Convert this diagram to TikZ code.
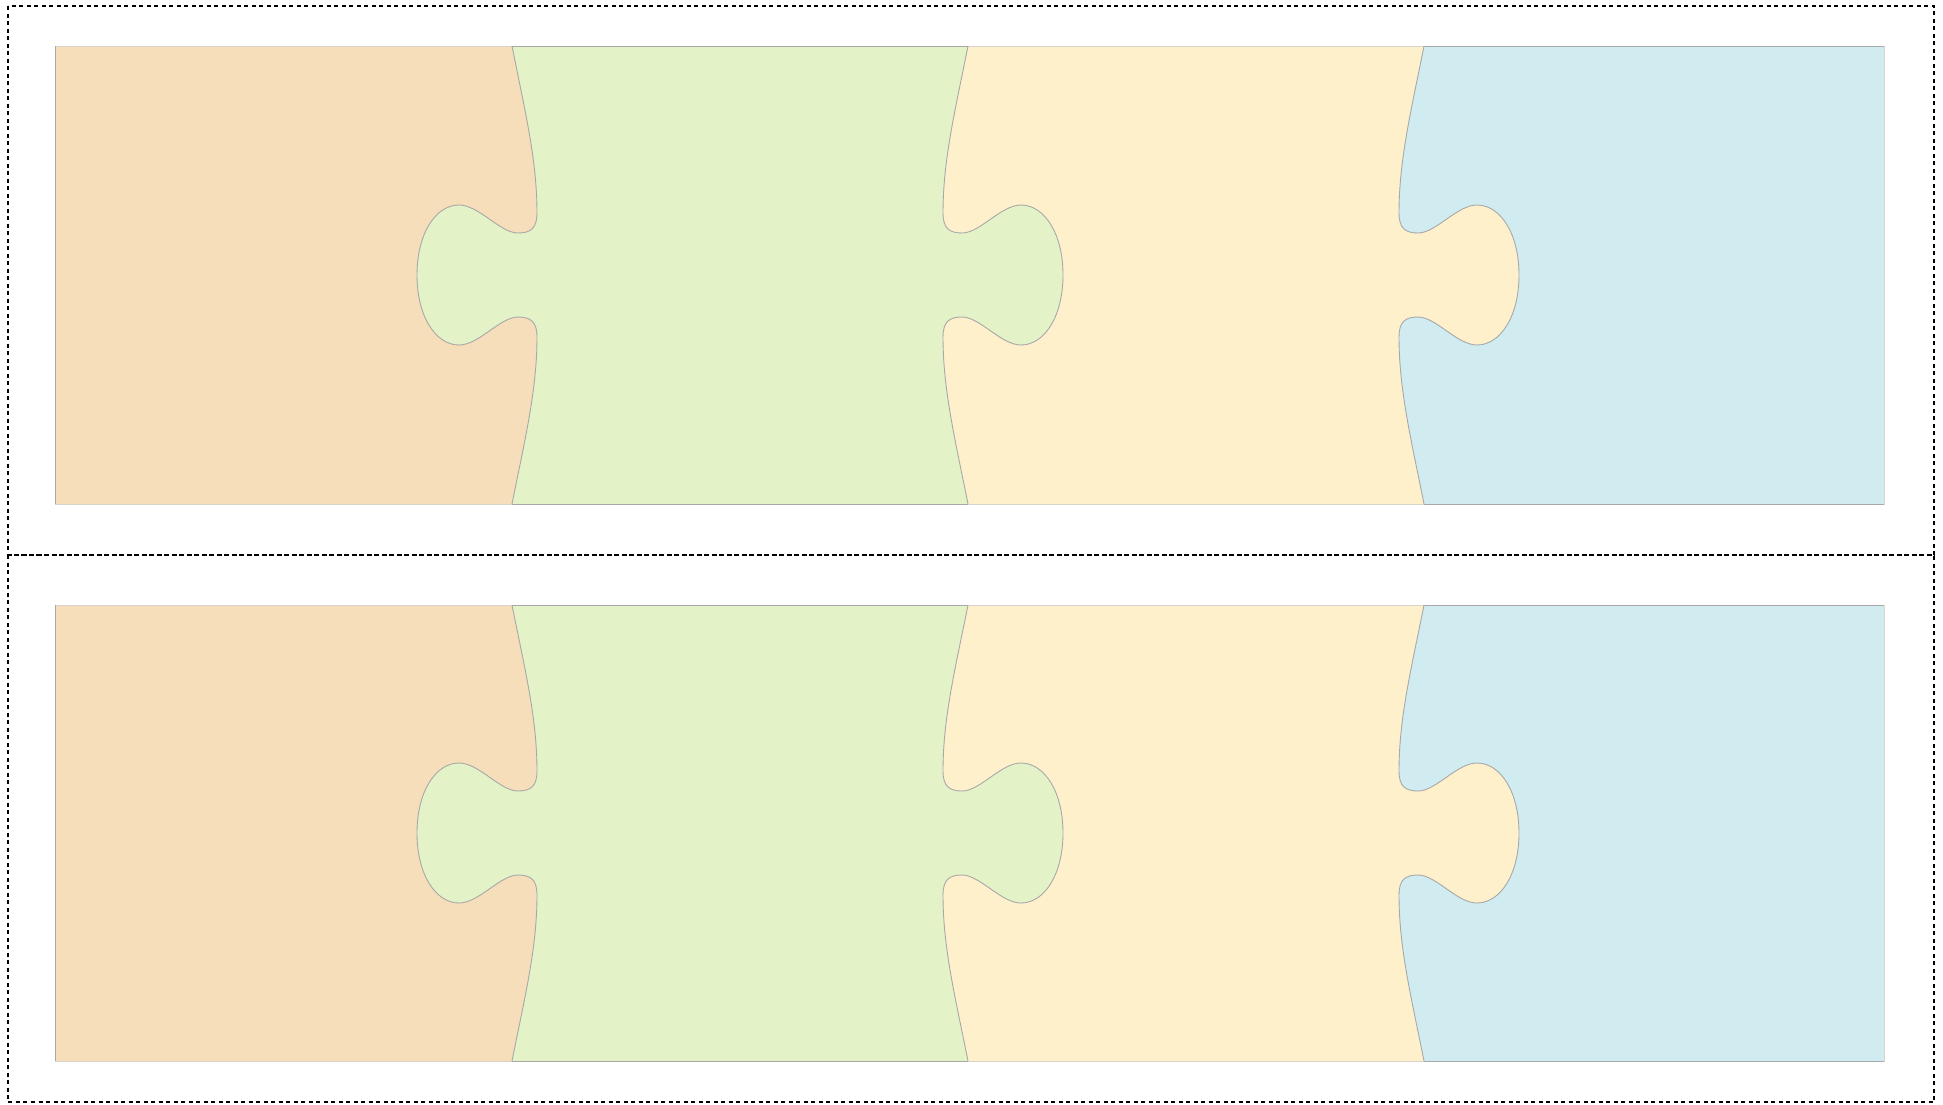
\documentclass[tikz,border=0pt]{standalone}
\definecolor{pzorange}{HTML}{F5DEB9}
\definecolor{pzgreen}{HTML}{E3F3C7}
\definecolor{pzyellow}{HTML}{FFF0CC}
\definecolor{pzblue}{HTML}{D0ECF0}
\definecolor{pzgray}{HTML}{A8A8A8}
\definecolor{pzpale}{HTML}{D8D4CC}
\tikzset{
  pzjoint/.style n args={4}{insert path={
    .. controls ({#1+(#4)*13},{#2-#3+65}) and ({#1+(#4)*25},{#2-115}) .. ({#1+(#4)*25},{#2-62})
    .. controls ({#1+(#4)*25},{#2-47}) and ({#1+(#4)*19},{#2-42}) .. ({#1+(#4)*6},{#2-42})
    .. controls ({#1-(#4)*12},{#2-42}) and ({#1-(#4)*33},{#2-70}) .. ({#1-(#4)*53},{#2-70})
    .. controls ({#1-(#4)*76},{#2-70}) and ({#1-(#4)*95},{#2-42}) .. ({#1-(#4)*95},{#2})
    .. controls ({#1-(#4)*95},{#2+42}) and ({#1-(#4)*76},{#2+70}) .. ({#1-(#4)*53},{#2+70})
    .. controls ({#1-(#4)*33},{#2+70}) and ({#1-(#4)*12},{#2+42}) .. ({#1+(#4)*6},{#2+42})
    .. controls ({#1+(#4)*19},{#2+42}) and ({#1+(#4)*25},{#2+47}) .. ({#1+(#4)*25},{#2+62})
    .. controls ({#1+(#4)*25},{#2+115}) and ({#1+(#4)*13},{#2+#3-65}) .. ({#1},{#2+#3})
  }},
  pzline/.style={draw=pzgray, line width=0.9pt},
  pzpaleline/.style={draw=pzpale, line width=0.9pt},
  pzdash/.style={draw=black, line width=1.8pt, dash pattern=on 4pt off 3.5pt},
}
\begin{document}
\begin{tikzpicture}[x=1pt,y=-1pt]
\useasboundingbox (0,0) rectangle (1943,1104);
\fill[white] (0,0) rectangle (1943,1104);
\foreach \c/\h in {275/229, 833/228}{
  \fill[pzorange] (55,{\c-\h}) rectangle (1884,{\c+\h});
  \fill[pzgreen] (1884,{\c-\h}) -- (512,{\c-\h}) [pzjoint={512}{\c}{\h}{1}] -- (1884,{\c+\h}) -- cycle;
  \fill[pzyellow] (1884,{\c-\h}) -- (968,{\c-\h}) [pzjoint={968}{\c}{\h}{-1}] -- (1884,{\c+\h}) -- cycle;
  \fill[pzblue] (1884,{\c-\h}) -- (1424,{\c-\h}) [pzjoint={1424}{\c}{\h}{-1}] -- (1884,{\c+\h}) -- cycle;
  \draw[pzpaleline] (55,{\c-\h}) rectangle (1884,{\c+\h});
  \draw[pzline] (55,{\c-\h}) -- (55,{\c+\h});
  \draw[pzline] (512,{\c-\h}) -- (968,{\c-\h});
  \draw[pzline] (512,{\c+\h}) -- (968,{\c+\h});
  \draw[pzline] (1424,{\c-\h}) -- (1884,{\c-\h});
  \draw[pzline] (1424,{\c+\h}) -- (1884,{\c+\h});
  \draw[pzline] (512,{\c-\h}) [pzjoint={512}{\c}{\h}{1}];
  \draw[pzline] (968,{\c-\h}) [pzjoint={968}{\c}{\h}{-1}];
  \draw[pzline] (1424,{\c-\h}) [pzjoint={1424}{\c}{\h}{-1}];
}
\draw[pzdash] (8,6) rectangle (1934,555);
\draw[pzdash] (8,555) rectangle (1934,1102);
\end{tikzpicture}
\end{document}
